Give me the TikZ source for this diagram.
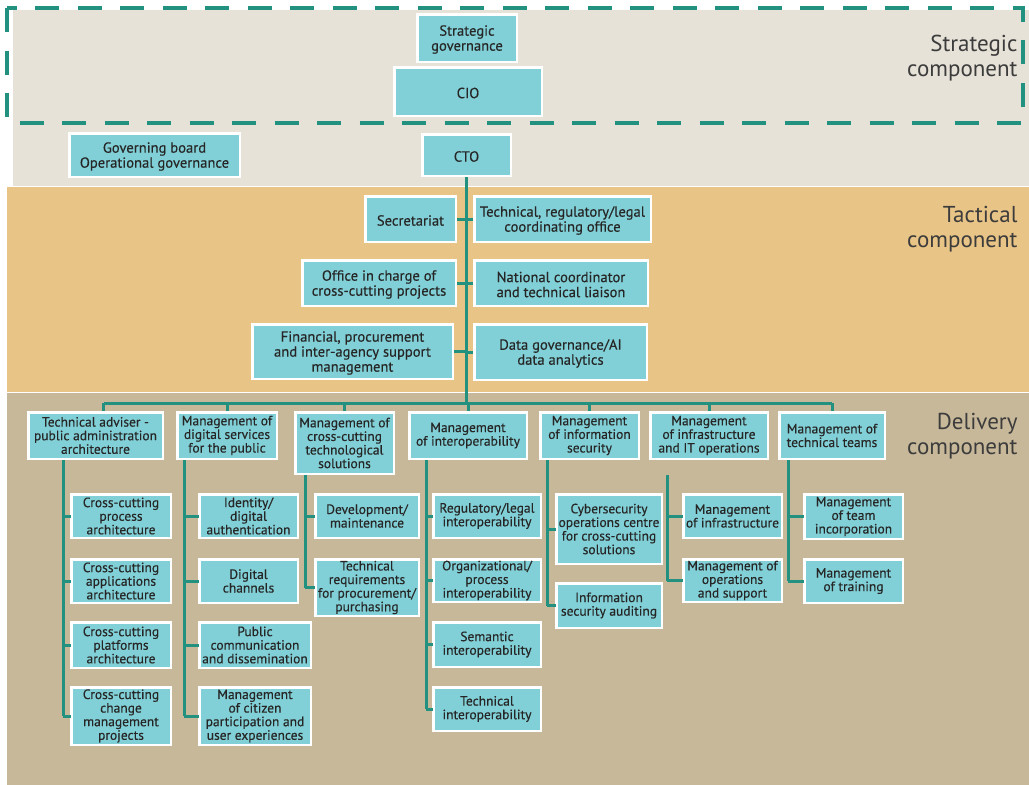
\documentclass[tikz,border=0pt]{standalone}
\usepackage{fontspec}
\setmainfont{PT Sans}
\newfontfamily\boxfont{PT Sans}[FakeBold=0.35]
\definecolor{stratbg}{HTML}{E6E2D7}
\definecolor{tactbg}{HTML}{E8C486}
\definecolor{delbg}{HTML}{C8B89A}
\definecolor{boxfill}{HTML}{82D0D7}
\definecolor{teal}{HTML}{22917F}
\definecolor{ink}{HTML}{262626}
\tikzset{
  box/.style={draw=white, line width=2.5pt, fill=boxfill, inner sep=0pt},
  btext/.style={align=center, text=ink, inner sep=0pt, yshift=-1.5pt,
    font=\boxfont\fontsize{14.6}{15}\selectfont},
  dtext/.style={align=center, text=ink, inner sep=0pt, yshift=0pt,
    font=\boxfont\fontsize{13.5}{13.6}\selectfont},
  conn/.style={draw=teal, line width=3pt},
  band/.style={text=ink!90, align=right, anchor=north east,
    font=\fontsize{23}{25}\selectfont},
}
% place a box by its outer corners: name, x1, y1, x2, y2, text style, text
\newcommand\bx[7]{%
  \node[box, minimum width={#4-#2-2.5}, minimum height={#5-#3-2.5}]
    (#1) at ({(#2+#4)/2},{(#3+#5)/2}) {};
  \node[#6] (#1-t) at (#1.center) {#7};}
\begin{document}
\begin{tikzpicture}[x=1pt,y=-1pt]
\useasboundingbox (0,0) rectangle (1029,785);
% bands
\fill[stratbg] (13,10) rectangle (1029,186);
\fill[tactbg] (7,187) rectangle (1029,392);
\fill[delbg] (7,393) rectangle (1029,785);
% strategic frame
\draw[teal, line width=4pt, dash pattern=on 24pt off 18.5pt] (7,8) rectangle (1023,123);
% band titles
\node[band] (tstrat) at (1021,32) {Strategic\\component};
\node[band] (ttact) at (1021,203) {Tactical\\component};
\node[band] (tdel) at (1021,410) {Delivery\\component};

% spine positions
\coordinate (bar) at (466,403);
\coordinate (ax) at (63,0);
\coordinate (dx) at (184,0);
\coordinate (cx) at (305,0);
\coordinate (ix) at (426,0);
\coordinate (sx) at (547,0);
\coordinate (fx) at (667,0);
\coordinate (tx) at (788,0);

% strategic / top
\bx{sg}{416}{13}{518}{63}{btext}{Strategic\\governance}
\bx{cio}{393}{66}{543}{117}{btext}{CIO}
\bx{gb}{68}{132}{241}{178}{btext}{Governing board\\Operational governance}
\bx{cto}{421}{133}{512}{177}{btext}{CTO}
\draw[conn] (cto.south) -- (cto.south |- bar);

% tactical
\bx{sec}{364}{195}{457}{243}{btext}{Secretariat}
\bx{trlo}{473}{195}{652}{243}{btext}{Technical, regulatory/legal\\coordinating office}
\bx{occ}{301}{259}{457}{307}{btext}{Office in charge of\\cross-cutting projects}
\bx{nc}{473}{259}{649}{307}{btext}{National coordinator\\and technical liaison}
\bx{fin}{251}{323}{454}{380}{btext}{Financial, procurement\\and inter-agency support\\management}
\bx{dg}{473}{323}{648}{381}{btext}{Data governance/AI\\data analytics}
\foreach \n in {sec,occ,fin}
  \draw[conn] (\n.east) -- (\n.east -| cto.south);
\foreach \n in {trlo,nc,dg}
  \draw[conn] (\n.west) -- (\n.west -| cto.south);

% delivery heads
\bx{adv}{27}{411}{164}{460}{dtext}{Technical adviser -\\public administration\\architecture}
\bx{dig}{176}{411}{278}{460}{dtext}{Management of\\digital services\\for the public}
\bx{cct}{294}{411}{395}{475}{dtext}{Management of\\cross-cutting\\technological\\solutions}
\bx{iop}{408}{411}{528}{460}{dtext}{Management\\of interoperability}
\bx{isec}{539}{411}{640}{460}{dtext}{Management\\of information\\security}
\bx{infra}{649}{411}{769}{460}{dtext}{Management\\of infrastructure\\and IT operations}
\bx{teams}{778}{411}{886}{460}{dtext}{Management of\\technical teams}
\coordinate (advdrop) at ([xshift=8pt]adv.north);
\draw[conn] (advdrop |- bar) -- (teams.north |- bar);
\draw[conn] (advdrop |- bar) -- (advdrop);
\foreach \n in {dig,cct,iop,isec,infra,teams}
  \draw[conn] (\n.north |- bar) -- (\n.north);

% delivery units
\bx{a1}{70}{493}{172}{539}{dtext}{Cross-cutting\\process\\architecture}
\bx{a2}{70}{558}{172}{604}{dtext}{Cross-cutting\\applications\\architecture}
\bx{a3}{70}{621}{172}{669}{dtext}{Cross-cutting\\platforms\\architecture}
\bx{a4}{70}{686}{172}{746}{dtext}{Cross-cutting\\change\\management\\projects}
\bx{d1}{198}{493}{299}{539}{dtext}{Identity/\\digital\\authentication}
\bx{d2}{198}{558}{299}{604}{dtext}{Digital\\channels}
\bx{d3}{198}{621}{312}{669}{dtext}{Public\\communication\\and dissemination}
\bx{d4}{198}{686}{312}{746}{dtext}{Management\\of citizen\\participation and\\user experiences}
\bx{c1}{314}{493}{420}{539}{dtext}{Development/\\maintenance}
\bx{c2}{314}{558}{420}{617}{dtext}{Technical\\requirements\\for procurement/\\purchasing}
\bx{i1}{432}{493}{542}{539}{dtext}{Regulatory/legal\\interoperability}
\bx{i2}{432}{558}{542}{603}{dtext}{Organizational/\\process\\interoperability}
\bx{i3}{432}{621}{542}{668}{dtext}{Semantic\\interoperability}
\bx{i4}{432}{686}{542}{732}{dtext}{Technical\\interoperability}
\bx{s1}{555}{493}{663}{565}{dtext}{Cybersecurity\\operations centre\\for cross-cutting\\solutions}
\bx{s2}{555}{582}{663}{629}{dtext}{Information\\security auditing}
\bx{f1}{682}{493}{783}{539}{dtext}{Management\\of infrastructure}
\bx{f2}{682}{558}{783}{603}{dtext}{Management of\\operations\\and support}
\bx{t1}{803}{493}{904}{540}{dtext}{Management\\of team\\incorporation}
\bx{t2}{803}{558}{904}{604}{dtext}{Management\\of training}

% delivery column spines and stubs
\draw[conn] (adv.south -| ax) -- (ax |- a4.west);
\foreach \n in {a1,a2,a3,a4} \draw[conn] (ax |- \n.west) -- ([xshift=1.2pt]\n.west);
\draw[conn] (dig.south -| dx) -- (dx |- d4.west);
\foreach \n in {d1,d2,d3,d4} \draw[conn] (dx |- \n.west) -- ([xshift=1.2pt]\n.west);
\draw[conn] (cct.south -| cx) -- (cx |- c2.west);
\foreach \n in {c1,c2} \draw[conn] (cx |- \n.west) -- ([xshift=1.2pt]\n.west);
\draw[conn] (iop.south -| ix) -- (ix |- i4.west);
\foreach \n in {i1,i2,i3,i4} \draw[conn] (ix |- \n.west) -- ([xshift=1.2pt]\n.west);
\draw[conn] (isec.south -| sx) -- (sx |- s2.west);
\foreach \n in {s1,s2} \draw[conn] (sx |- \n.west) -- ([xshift=1.2pt]\n.west);
\draw[conn] ([yshift=-15pt]infra.south -| fx) -- (fx |- f2.west);
\foreach \n in {f1,f2} \draw[conn] (fx |- \n.west) -- ([xshift=1.2pt]\n.west);
\draw[conn] (teams.south -| tx) -- (tx |- t2.west);
\foreach \n in {t1,t2} \draw[conn] (tx |- \n.west) -- ([xshift=1.2pt]\n.west);
\end{tikzpicture}
\end{document}
